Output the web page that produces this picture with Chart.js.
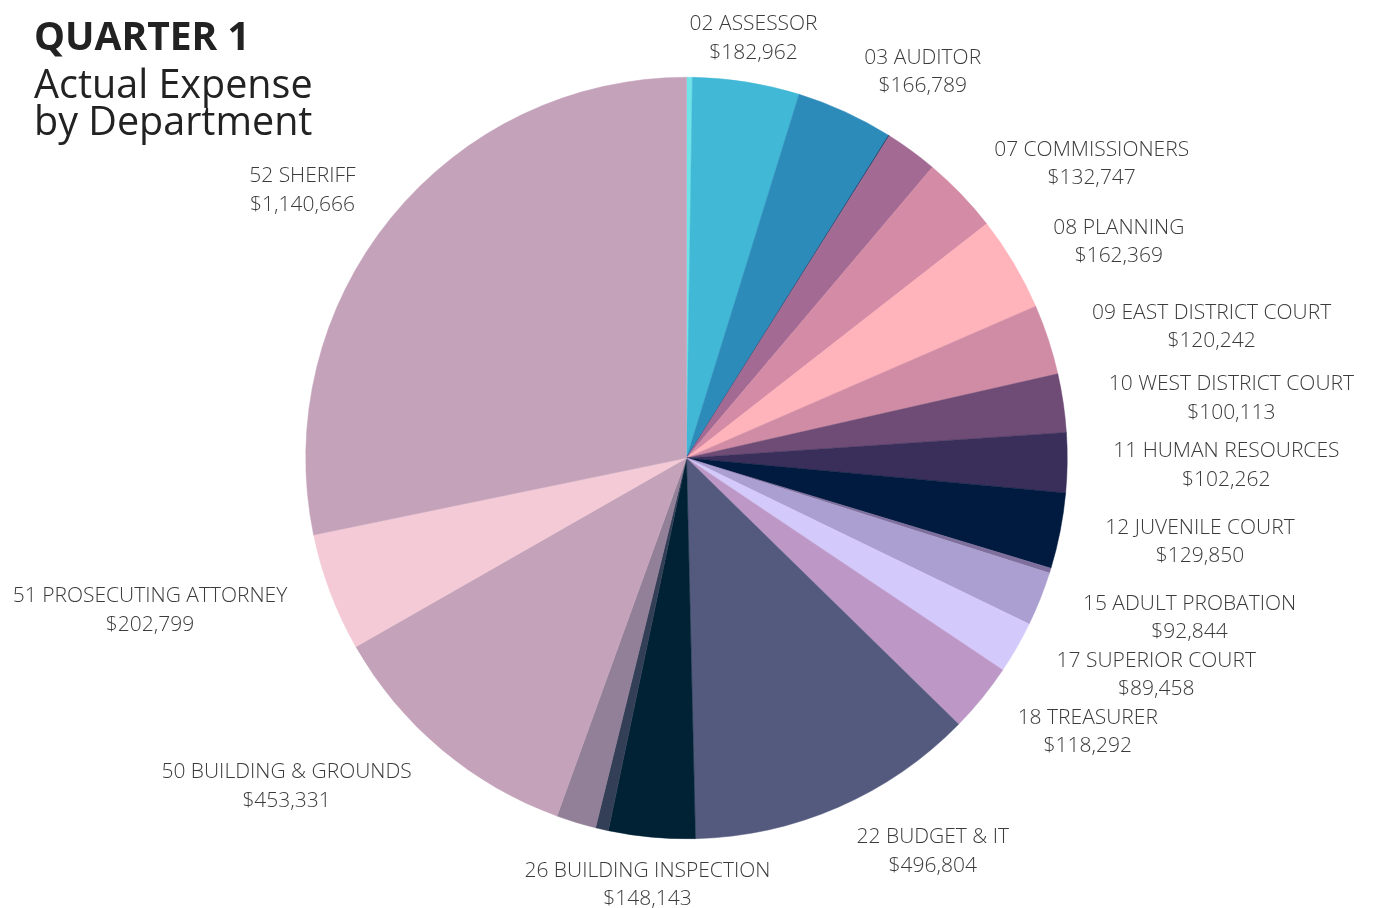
<!DOCTYPE html>
<html>
<head>
<meta charset="utf-8">
<title>Quarter 1 - Actual Expense by Department</title>
<script src="https://cdn.jsdelivr.net/npm/chart.js@4.4.1/dist/chart.umd.min.js"></script>
<style>
    html, body { margin: 0; padding: 0; background: #fff; }
    #wrap { position: relative; width: 1373px; height: 908px; }
    #chart { position: absolute; left: 0; top: 0; }
    .title { position: absolute; left: 34px; margin: 0; white-space: nowrap; font-family: 'Open Sans', sans-serif; color: #222; }
    .title.main { top: 15px; font-size: 39px; line-height: 40px; font-weight: 700; }
    .title.sub { top: 65px; font-size: 39.5px; line-height: 37px; font-weight: 400; }
</style>
</head>
<body>
<div id="wrap">
    <canvas id="chart" width="1373" height="908"></canvas>
    <div class="title main">QUARTER 1</div>
    <div class="title sub">Actual Expense<br>by Department</div>
</div>
<script>
/**
 * Departments (clockwise from the top, empty = slice without a label)
 */
const departments = [
    '', '02 ASSESSOR', '03 AUDITOR', '', '', '07 COMMISSIONERS', '08 PLANNING',
    '09 EAST DISTRICT COURT', '10 WEST DISTRICT COURT', '11 HUMAN RESOURCES',
    '12 JUVENILE COURT', '', '15 ADULT PROBATION', '17 SUPERIOR COURT',
    '18 TREASURER', '22 BUDGET & IT', '26 BUILDING INSPECTION', '', '',
    '50 BUILDING & GROUNDS', '51 PROSECUTING ATTORNEY', '52 SHERIFF'
];

/**
 * Actual expense
 */
const expenses = [
    10000, 182962, 166789, 1500, 90000, 132747, 162369,
    120242, 100113, 102262,
    129850, 8500, 92844, 89458,
    118292, 496804, 148143, 22000, 68000,
    453331, 202799, 1140666
];

/**
 * Slice colours
 */
const sliceColors = [
    '#6fe3e8', '#41b8d5', '#2d8bba', '#1f3560', '#a36b93', '#d48ba5', '#ffb3ba',
    '#d18ca5', '#6e4c75', '#3a2f5a',
    '#011a3f', '#7e6f9c', '#ab9fd1', '#d3c9fa',
    '#bd98c7', '#545a7e', '#012235', '#333f57', '#927f98',
    '#c4a3ba', '#f3cad6', '#c4a3ba'
];

/**
 * Labels outside the pie
 */
const outsideLabels = {
    id: 'outsideLabels',
    afterDatasetsDraw(chart) {
        const ctx = chart.ctx;
        const meta = chart.getDatasetMeta(0);
        const gap = 46;
        const lineHeight = 28.5;
        const placed = [];

        ctx.save();
        ctx.font = '300 21px "Open Sans"';
        ctx.fillStyle = '#3b3b3b';
        ctx.textAlign = 'center';
        ctx.textBaseline = 'middle';

        meta.data.forEach((arc, i) => {
            if (!departments[i]) return;

            const p = arc.getProps(['x', 'y', 'startAngle', 'endAngle', 'outerRadius'], true);
            const mid = (p.startAngle + p.endAngle) / 2;
            const vx = Math.cos(mid);
            const vy = Math.sin(mid);
            const lines = [departments[i], '$' + expenses[i].toLocaleString('en-US')];
            const w = Math.max(...lines.map(t => ctx.measureText(t).width));
            const h = lines.length * lineHeight;

            // anchor outside the arc; side labels start at it, top/bottom ones are centred
            const ax = p.x + vx * (p.outerRadius + gap);
            const ay = p.y + vy * (p.outerRadius + gap);
            const side = Math.min(1, Math.max(0, (Math.abs(vx) - 0.2) / 0.15));
            let cx = ax + Math.sign(vx) * side * w / 2;
            let cy = ay + 2;

            // nudge away from labels already drawn
            const right = vx >= 0;
            placed.forEach(b => {
                const ox = Math.min(cx + w / 2, b.x + b.w / 2) - Math.max(cx - w / 2, b.x - b.w / 2);
                const oy = Math.min(cy + h / 2, b.y + b.h / 2) - Math.max(cy - h / 2, b.y - b.h / 2);
                if (ox > 0 && oy > 0) {
                    if (ox < oy) cx += right ? ox : -ox;
                    else cy += right ? oy : -oy;
                }
            });
            placed.push({ x: cx, y: cy, w: w, h: h });

            lines.forEach((t, k) => ctx.fillText(t, cx, cy - h / 2 + lineHeight * (k + 0.5)));
        });

        ctx.restore();
    }
};

/**
 * Chart
 */
new Chart(document.getElementById('chart'), {
    type: 'pie',
    data: {
        labels: departments,
        datasets: [{
            data: expenses,
            backgroundColor: sliceColors,
            borderColor: sliceColors,
            borderWidth: 0.5
        }]
    },
    options: {
        responsive: false,
        animation: false,
        devicePixelRatio: 1,
        layout: { padding: { top: 77, bottom: 69, left: 300, right: 300 } },
        plugins: {
            legend: { display: false },
            tooltip: { enabled: false }
        }
    },
    plugins: [outsideLabels]
});
</script>
</body>
</html>
